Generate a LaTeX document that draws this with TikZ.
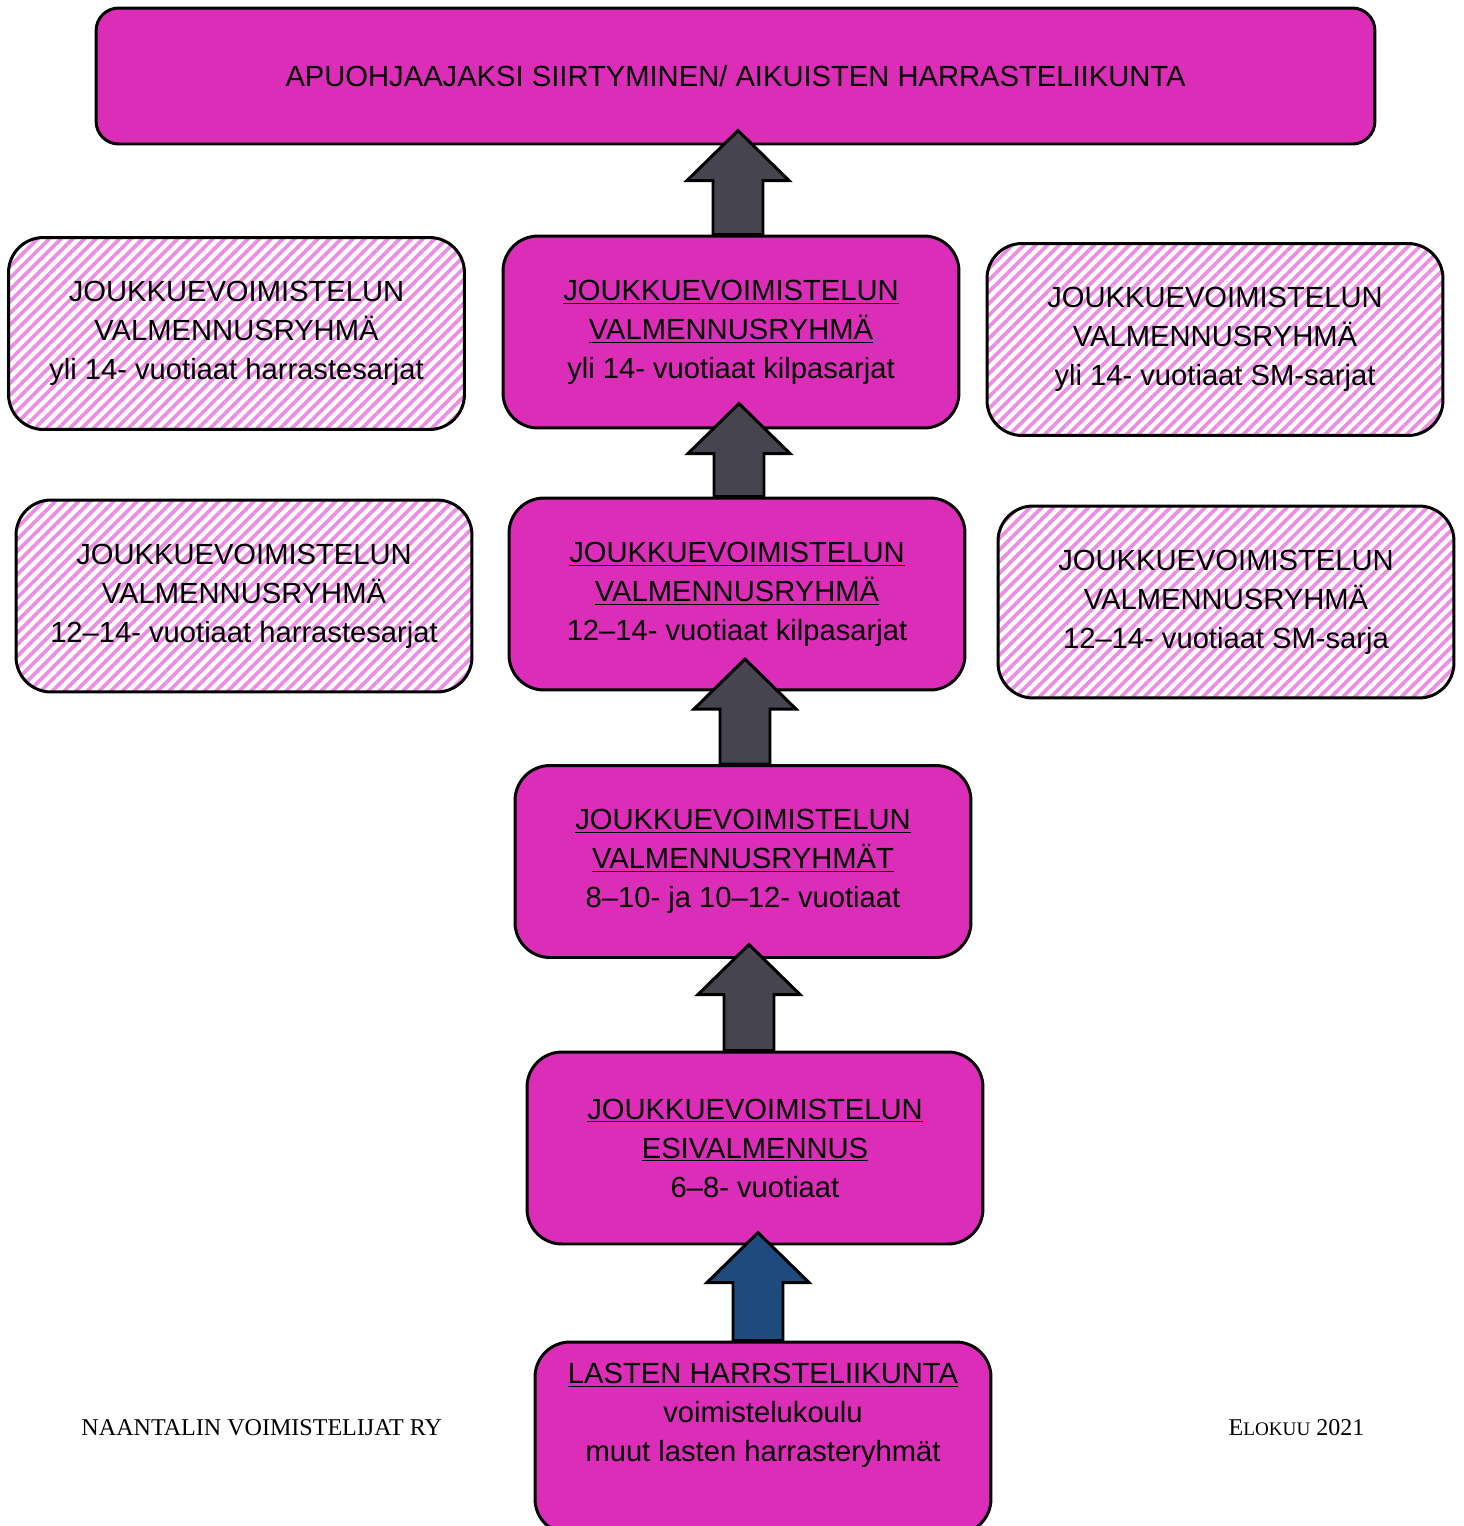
\documentclass[tikz,border=0pt]{standalone}
\usepackage{fontspec}
\setmainfont{Liberation Sans}
\newfontfamily\footerfont{Liberation Serif}
\usetikzlibrary{calc,patterns.meta}

\definecolor{stagepink}{RGB}{220,45,185}
\definecolor{stripepink}{RGB}{236,140,226}
\definecolor{arrowgray}{RGB}{69,68,79}
\definecolor{arrowblue}{RGB}{31,74,125}

\newcommand{\stagefont}{\fontsize{16.6}{22.2}\selectfont}
% block arrow standing on the top edge of a box: box, x offset, shaft length, fill
\newcommand{\stagearrow}[4]{%
  \draw[blockarrow, fill=#4] ($(#1.north)+(#2-25,0)$) -- ++(0,-#3) -- ++(-26,0)
    -- ++(51,-50) -- ++(51,50) -- ++(-26,0) -- ++(0,#3) -- cycle;}

\begin{document}
\begin{tikzpicture}[x=0.02cm, y=-0.02cm, line width=1.7pt,
  stage/.style={draw, fill=stagepink, rounded corners=0.7cm, minimum width=9.12cm,
    minimum height=3.84cm, align=center, font=\stagefont, inner sep=0pt},
  side/.style={stage, fill=none, pattern={Lines[angle=45, distance=4.7pt, line width=2.1pt]},
    pattern color=stripepink},
  blockarrow/.style={draw, line join=miter},
  footer/.style={font=\footerfont\fontsize{13.7}{16}\selectfont, inner sep=0pt}]
\clip (0,0) rectangle (1464,1526);

\node[stage, rounded corners=0.45cm, minimum width=25.58cm, minimum height=2.72cm] (top) at (735.5,76)
  {APUOHJAAJAKSI SIIRTYMINEN/ AIKUISTEN HARRASTELIIKUNTA};

\node[side] (over14h) at (236.5,333.5) {JOUKKUEVOIMISTELUN\\ VALMENNUSRYHMÄ\\ yli 14- vuotiaat harrastesarjat};
\node[stage] (over14k) at (731,332) {\underline{JOUKKUEVOIMISTELUN}\\ \underline{VALMENNUSRYHMÄ}\\ yli 14- vuotiaat kilpasarjat};
\node[side] (over14sm) at (1215,339.5) {JOUKKUEVOIMISTELUN\\ VALMENNUSRYHMÄ\\ yli 14- vuotiaat SM-sarjat};

\node[side] (mid12h) at (244,596) {JOUKKUEVOIMISTELUN\\ VALMENNUSRYHMÄ\\ 12–14- vuotiaat harrastesarjat};
\node[stage] (mid12k) at (737,594) {\underline{JOUKKUEVOIMISTELUN}\\ \underline{VALMENNUSRYHMÄ}\\ 12–14- vuotiaat kilpasarjat};
\node[side] (mid12sm) at (1226,602) {JOUKKUEVOIMISTELUN\\ VALMENNUSRYHMÄ\\ 12–14- vuotiaat SM-sarja};

\node[stage] (young8) at (743,861.5) {\underline{JOUKKUEVOIMISTELUN}\\ \underline{VALMENNUSRYHMÄT}\\ 8–10- ja 10–12- vuotiaat};
\node[stage] (pre6) at (755,1148) {\underline{JOUKKUEVOIMISTELUN}\\ \underline{ESIVALMENNUS}\\ 6–8- vuotiaat};
\node[stage] (kids) at (763,1438) {\underline{LASTEN HARRSTELIIKUNTA}\\ voimistelukoulu\\ muut lasten harrasteryhmät\\ \strut};

\stagearrow{over14k}{7}{54}{arrowgray}
\stagearrow{mid12k}{2}{43}{arrowgray}
\stagearrow{young8}{2}{55}{arrowgray}
\stagearrow{pre6}{-6}{56}{arrowgray}
\stagearrow{kids}{-5}{58}{arrowblue}

\node[footer, anchor=west] (club) at (80,1428) {NAANTALIN VOIMISTELIJAT RY};
\node[footer, anchor=east] (date) at (1366,1428) {E{\fontsize{10.9}{13}\selectfont LOKUU} 2021};
\end{tikzpicture}
\end{document}
